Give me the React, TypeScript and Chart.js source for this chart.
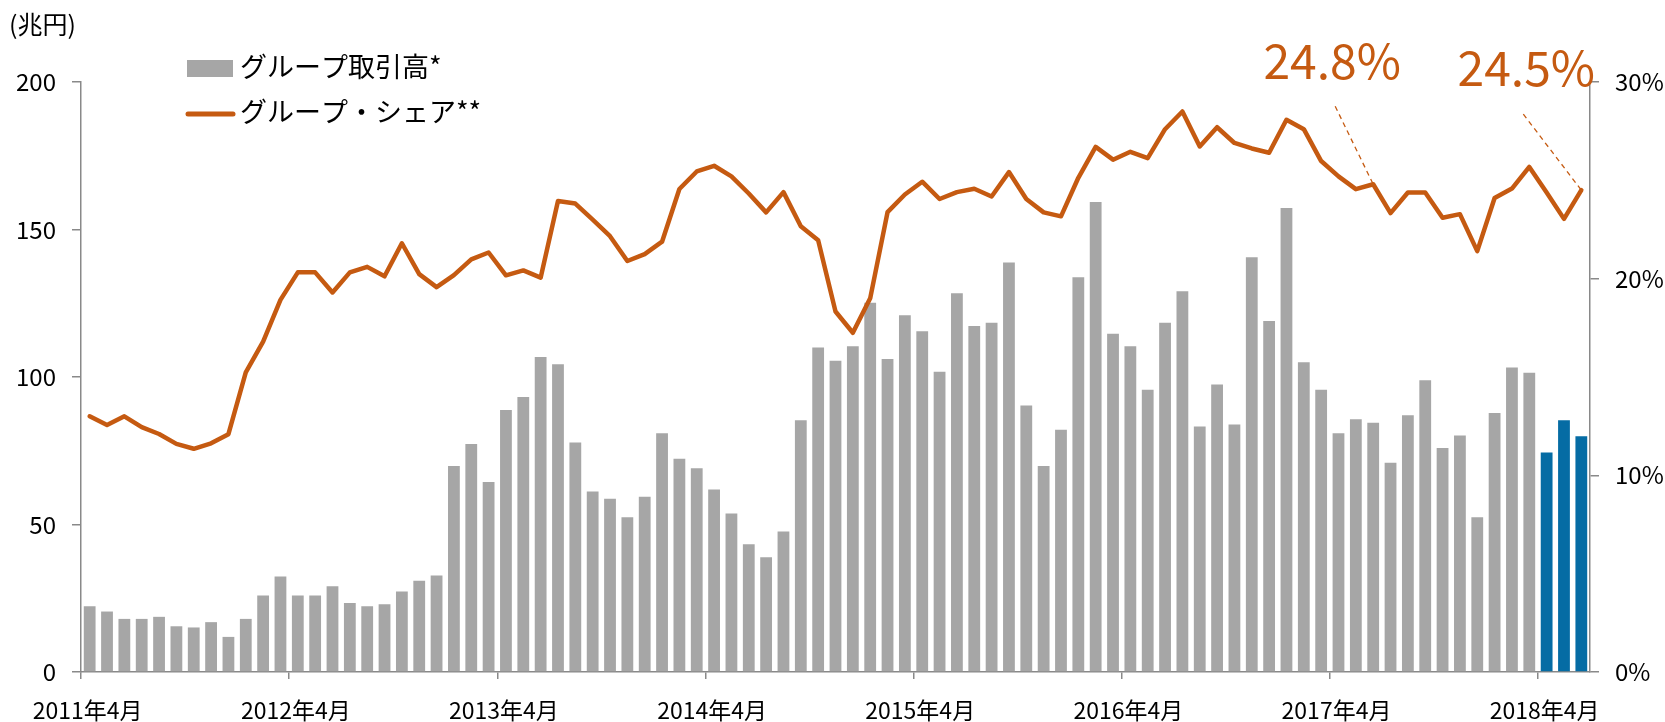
import React, { useEffect, useRef } from 'react';
import { Chart, registerables } from 'chart.js';

Chart.register(...registerables);

// ---- data ----
const START_YEAR = 2011;
const START_MONTH = 4;

// グループ取引高 (兆円), monthly 2011年4月 – 2018年6月
const volumes: number[] = [
  22.3, 20.5, 18.0, 18.0, 18.7, 15.5, 15.1, 16.9, 11.9, 18.0, 25.9, 32.4,
  25.9, 25.9, 29.1, 23.4, 22.3, 23.0, 27.3, 30.9, 32.7, 69.8, 77.3, 64.4,
  88.8, 93.2, 106.8, 104.3, 77.8, 61.2, 58.7, 52.5, 59.4, 80.9, 72.3, 69.1,
  61.9, 53.7, 43.3, 38.9, 47.6, 85.3, 110.0, 105.5, 110.4, 125.2, 106.1, 120.9,
  115.5, 101.8, 128.4, 117.3, 118.4, 138.8, 90.3, 69.8, 82.1, 133.8, 159.3, 114.7,
  110.4, 95.7, 118.4, 129.1, 83.2, 97.5, 83.9, 140.6, 119.0, 157.3, 105.0, 95.7,
  80.9, 85.7, 84.5, 70.9, 87.0, 98.9, 75.9, 80.2, 52.5, 87.8, 103.2, 101.4,
  74.4, 85.3, 79.9,
];

// グループ・シェア (%)
const shares: number[] = [
  13.0, 12.56, 13.0, 12.45, 12.1, 11.6, 11.35, 11.63, 12.09, 15.23, 16.8, 18.92,
  20.32, 20.32, 19.3, 20.32, 20.6, 20.12, 21.8, 20.23, 19.57, 20.18, 20.98, 21.33,
  20.17, 20.42, 20.05, 23.95, 23.82, 23.0, 22.16, 20.9, 21.25, 21.88, 24.56, 25.45,
  25.74, 25.2, 24.33, 23.37, 24.4, 22.66, 21.95, 18.33, 17.25, 19.0, 23.38, 24.28,
  24.93, 24.05, 24.4, 24.57, 24.18, 25.42, 24.05, 23.37, 23.17, 25.13, 26.7, 26.05,
  26.45, 26.13, 27.6, 28.5, 26.72, 27.7, 26.9, 26.62, 26.4, 28.08, 27.6, 25.98,
  25.2, 24.55, 24.8, 23.33, 24.38, 24.38, 23.1, 23.28, 21.4, 24.1, 24.58, 25.68,
  24.38, 23.04, 24.5,
];

const HIGHLIGHT_FROM = 84; // first blue bar (2018年4月)
const ANNOTATED = [74, 86]; // points labelled with their share

const LEFT_TICKS = [0, 50, 100, 150, 200];
const RIGHT_TICKS = [0, 10, 20, 30];
const UNIT_LABEL = '(兆円)';
const LEGEND_BAR = 'グループ取引高*';
const LEGEND_LINE = 'グループ・シェア**';

const categories = volumes.map((_, i) => {
  const m0 = START_MONTH - 1 + i;
  return `${START_YEAR + Math.floor(m0 / 12)}年${(m0 % 12) + 1}月`;
});

// ---- styles ----
const GRAY = '#a6a6a6';
const BLUE = '#056ca4';
const ORANGE = '#c55a11';
const AXIS = '#898989';
const FONT = '"Noto Sans CJK JP", "Noto Sans", sans-serif';

const overlayPlugin = {
  id: 'overlay',
  afterDatasetsDraw(chart: any) {
    const ctx = chart.ctx;
    const meta = chart.getDatasetMeta(0);
    const offsets: Record<number, { lx: number; ly: number; tx: number; ty: number }> = {
      74: { lx: -38, ly: -78, tx: -41, ty: -105 },
      86: { lx: -58, ly: -76, tx: -55, ty: -104 },
    };
    ctx.save();
    ANNOTATED.forEach((idx) => {
      const pt = meta.data[idx];
      if (!pt) return;
      const o = offsets[idx];
      ctx.strokeStyle = ORANGE;
      ctx.lineWidth = 1.3;
      ctx.setLineDash([5, 4]);
      ctx.beginPath();
      ctx.moveTo(pt.x + o.lx, pt.y + o.ly);
      ctx.lineTo(pt.x, pt.y);
      ctx.stroke();
      ctx.setLineDash([]);
      ctx.fillStyle = ORANGE;
      ctx.font = `48px ${FONT}`;
      ctx.textAlign = 'center';
      ctx.textBaseline = 'alphabetic';
      ctx.fillText(`${shares[idx].toFixed(1)}%`, pt.x + o.tx, pt.y + o.ty);
    });
    ctx.restore();
  },
  afterDraw(chart: any) {
    const ctx = chart.ctx;
    ctx.save();
    ctx.fillStyle = '#000';
    ctx.textAlign = 'left';
    ctx.textBaseline = 'middle';
    ctx.font = `25px ${FONT}`;
    ctx.fillText(UNIT_LABEL, 9, 24);
    // legend
    ctx.fillStyle = GRAY;
    ctx.fillRect(187, 60, 46, 17);
    ctx.strokeStyle = ORANGE;
    ctx.lineWidth = 5;
    ctx.lineCap = 'round';
    ctx.beginPath();
    ctx.moveTo(188, 114);
    ctx.lineTo(233, 114);
    ctx.stroke();
    ctx.fillStyle = '#000';
    ctx.font = `27px ${FONT}`;
    ctx.fillText(LEGEND_BAR, 240, 67);
    ctx.fillText(LEGEND_LINE, 240, 112);
    ctx.restore();
  },
};

export default function App() {
  const canvasRef = useRef<HTMLCanvasElement | null>(null);

  useEffect(() => {
    if (!canvasRef.current) return;
    const chart = new Chart(canvasRef.current, {
      type: 'bar',
      data: {
        labels: categories,
        datasets: [
          {
            type: 'line',
            label: LEGEND_LINE,
            data: shares,
            yAxisID: 'y1',
            borderColor: ORANGE,
            borderWidth: 4.5,
            pointRadius: 0,
            tension: 0,
            order: 0,
            borderJoinStyle: 'round',
            borderCapStyle: 'round',
          } as any,
          {
            type: 'bar',
            label: LEGEND_BAR,
            data: volumes,
            yAxisID: 'y',
            backgroundColor: volumes.map((_, i) => (i >= HIGHLIGHT_FROM ? BLUE : GRAY)),
            barPercentage: 0.68,
            categoryPercentage: 1,
            order: 1,
          },
        ],
      },
      options: {
        responsive: false,
        animation: false,
        layout: { padding: { top: 82, left: 0, right: 0, bottom: 0 } },
        plugins: { legend: { display: false }, tooltip: { enabled: false } },
        scales: {
          x: {
            offset: true,
            grid: {
              display: true,
              offset: true,
              drawOnChartArea: false,
              drawTicks: true,
              tickLength: 7,
              lineWidth: 1.5,
              color: (c: any) => (c.index % 12 === 0 && c.index < categories.length ? AXIS : 'rgba(0,0,0,0)'),
            },
            border: { display: true, color: AXIS, width: 1.5 },
            ticks: {
              autoSkip: false,
              maxRotation: 0,
              minRotation: 0,
              padding: 17,
              labelOffset: -2,
              color: '#000',
              font: { family: FONT, size: 23 },
              callback: (_v: any, i: number) => (i % 12 === 0 ? categories[i] : ''),
            },
            afterFit: (s: any) => {
              s.height = 50;
            },
          },
          y: {
            position: 'left',
            min: 0,
            max: 200,
            afterBuildTicks: (s: any) => {
              s.ticks = LEFT_TICKS.map((v) => ({ value: v }));
            },
            grid: { drawOnChartArea: false, tickLength: 9, color: AXIS, lineWidth: 1.5 },
            border: { display: true, color: AXIS, width: 1.5 },
            ticks: { padding: 16, color: '#000', font: { family: FONT, size: 24 } },
            afterFit: (s: any) => {
              s.width = 81;
            },
          },
          y1: {
            position: 'right',
            min: 0,
            max: 30,
            afterBuildTicks: (s: any) => {
              s.ticks = RIGHT_TICKS.map((v) => ({ value: v }));
            },
            grid: { drawOnChartArea: false, tickLength: 9, color: AXIS, lineWidth: 1.5 },
            border: { display: true, color: AXIS, width: 1.5 },
            ticks: {
              padding: 16,
              color: '#000',
              font: { family: FONT, size: 24 },
              callback: (v: any) => `${v}%`,
            },
            afterFit: (s: any) => {
              s.width = 75;
            },
          },
        },
      },
      plugins: [overlayPlugin],
    });
    return () => chart.destroy();
  }, []);

  return (
    <div style={{ position: 'fixed', left: 0, top: 0, width: 1665, height: 722, background: '#fff' }}>
      <canvas ref={canvasRef} width={1665} height={722} style={{ display: 'block' }} />
    </div>
  );
}
